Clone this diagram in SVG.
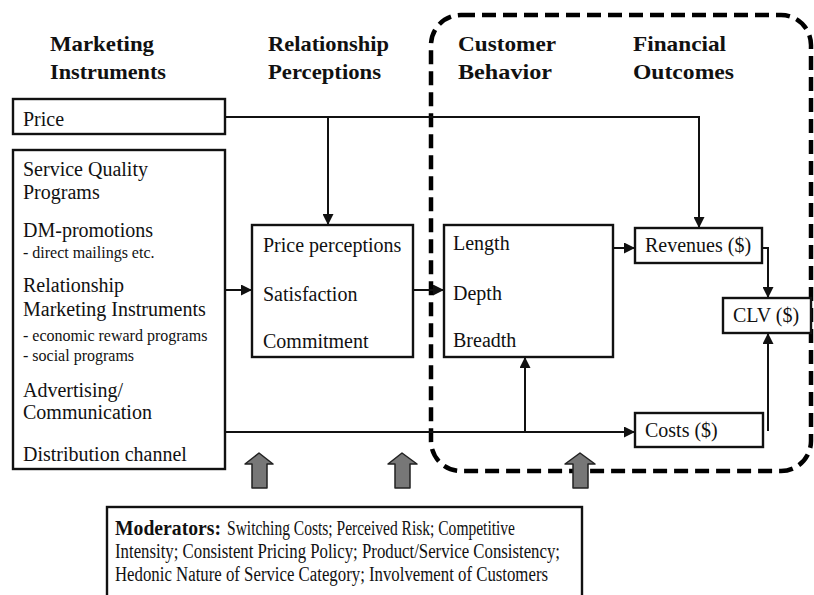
<svg xmlns="http://www.w3.org/2000/svg" width="814" height="595" viewBox="0 0 814 595">
  <defs>
    <marker id="arrow" viewBox="0 0 10 10" refX="10" refY="5" markerWidth="11" markerHeight="11" markerUnits="userSpaceOnUse" orient="auto">
      <path d="M0,0 L10,5 L0,10 z" fill="#111"/>
    </marker>
    <style>
      .box { fill: #fff; stroke: #111; stroke-width: 2.4; }
      .t { font-family: "Liberation Serif", "Times New Roman", serif; font-size: 20px; fill: #111; }
      .s { font-family: "Liberation Serif", "Times New Roman", serif; font-size: 16px; fill: #111; }
      .h { font-family: "Liberation Serif", "Times New Roman", serif; font-size: 22px; font-weight: bold; fill: #111; }
      .b { font-weight: bold; }
      .c { fill: none; stroke: #111; stroke-width: 2; }
      .ca { fill: none; stroke: #111; stroke-width: 2; marker-end: url(#arrow); }
      .blk { fill: #777; stroke: #222; stroke-width: 1.5; stroke-linejoin: round; }
    </style>
  </defs>
  <rect width="814" height="595" fill="#fff"/>

  <!-- column headings -->
  <g id="headings">
    <text class="h" x="50" y="51" textLength="104" lengthAdjust="spacingAndGlyphs">Marketing</text>
    <text class="h" x="50" y="79" textLength="116" lengthAdjust="spacingAndGlyphs">Instruments</text>
    <text class="h" x="268" y="51" textLength="121" lengthAdjust="spacingAndGlyphs">Relationship</text>
    <text class="h" x="268" y="79" textLength="113" lengthAdjust="spacingAndGlyphs">Perceptions</text>
    <text class="h" x="458" y="51" textLength="98" lengthAdjust="spacingAndGlyphs">Customer</text>
    <text class="h" x="458" y="79" textLength="94" lengthAdjust="spacingAndGlyphs">Behavior</text>
    <text class="h" x="633" y="51" textLength="93" lengthAdjust="spacingAndGlyphs">Financial</text>
    <text class="h" x="633" y="79" textLength="101" lengthAdjust="spacingAndGlyphs">Outcomes</text>
  </g>

  <!-- dashed frame around behavior and outcomes -->
  <rect id="frame" x="431" y="15" width="380" height="456" rx="30" ry="30" fill="none" stroke="#000" stroke-width="4.5" stroke-dasharray="14 7"/>

  <!-- connectors -->
  <g id="connectors">
    <polyline class="ca" points="226,117 699,117 699,228"/>
    <line class="ca" x1="328" y1="117" x2="328" y2="225"/>
    <line class="ca" x1="226" y1="290" x2="252" y2="290"/>
    <line class="ca" x1="413" y1="290" x2="444" y2="290"/>
    <line class="ca" x1="613" y1="248" x2="635" y2="248"/>
    <polyline class="ca" points="762,248 768,248 768,298"/>
    <line class="ca" x1="226" y1="432" x2="635" y2="432"/>
    <line class="ca" x1="525" y1="432" x2="525" y2="357"/>
    <line class="ca" x1="768" y1="431" x2="768" y2="333"/>
  </g>

  <g id="price">
    <rect class="box" x="13" y="99" width="212" height="35"/>
    <text class="t" x="23" y="126">Price</text>
  </g>

  <g id="instruments">
    <rect class="box" x="13" y="150" width="212" height="319"/>
    <text class="t" x="23" y="176">Service Quality</text>
    <text class="t" x="23" y="199">Programs</text>
    <text class="t" x="23" y="237">DM-promotions</text>
    <text class="s" x="23" y="258">- direct mailings etc.</text>
    <text class="t" x="23" y="292">Relationship</text>
    <text class="t" x="23" y="316">Marketing Instruments</text>
    <text class="s" x="23" y="341">-  economic reward programs</text>
    <text class="s" x="23" y="361">- social programs</text>
    <text class="t" x="23" y="397">Advertising/</text>
    <text class="t" x="23" y="419">Communication</text>
    <text class="t" x="23" y="461">Distribution channel</text>
  </g>

  <g id="perceptions">
    <rect class="box" x="252" y="225" width="161" height="132"/>
    <text class="t" x="263" y="252">Price perceptions</text>
    <text class="t" x="263" y="301">Satisfaction</text>
    <text class="t" x="263" y="348">Commitment</text>
  </g>

  <g id="behavior">
    <rect class="box" x="444" y="225" width="169" height="132"/>
    <text class="t" x="453" y="250">Length</text>
    <text class="t" x="453" y="300">Depth</text>
    <text class="t" x="453" y="347">Breadth</text>
  </g>

  <g id="revenues">
    <rect class="box" x="635" y="228" width="127" height="35"/>
    <text class="t" x="645" y="252">Revenues ($)</text>
  </g>

  <g id="clv">
    <rect class="box" x="723" y="298" width="88" height="35"/>
    <text class="t" x="733" y="322">CLV ($)</text>
  </g>

  <g id="costs">
    <rect class="box" x="635" y="413" width="128" height="34"/>
    <text class="t" x="645" y="437">Costs ($)</text>
  </g>

  <!-- moderator influence arrows -->
  <g id="moderator-arrows">
    <polygon class="blk" points="259,453 273,464 267,464 267,488 252,488 252,464 245,464"/>
    <polygon class="blk" points="402,453 417,464 410,464 410,488 395,488 395,464 388,464"/>
    <polygon class="blk" points="580,453 595,464 588,464 588,488 573,488 573,464 565,464"/>
  </g>

  <g id="moderators">
    <rect class="box" x="107" y="507" width="475" height="100"/>
    <text class="t b" x="115" y="535" textLength="106" lengthAdjust="spacingAndGlyphs">Moderators:</text>
    <text class="t" x="227" y="535" textLength="288" lengthAdjust="spacingAndGlyphs">Switching Costs; Perceived Risk; Competitive</text>
    <text class="t" x="115" y="558" textLength="445" lengthAdjust="spacingAndGlyphs">Intensity; Consistent Pricing Policy; Product/Service Consistency;</text>
    <text class="t" x="115" y="581" textLength="433" lengthAdjust="spacingAndGlyphs">Hedonic Nature of Service Category; Involvement of Customers</text>
  </g>
</svg>
